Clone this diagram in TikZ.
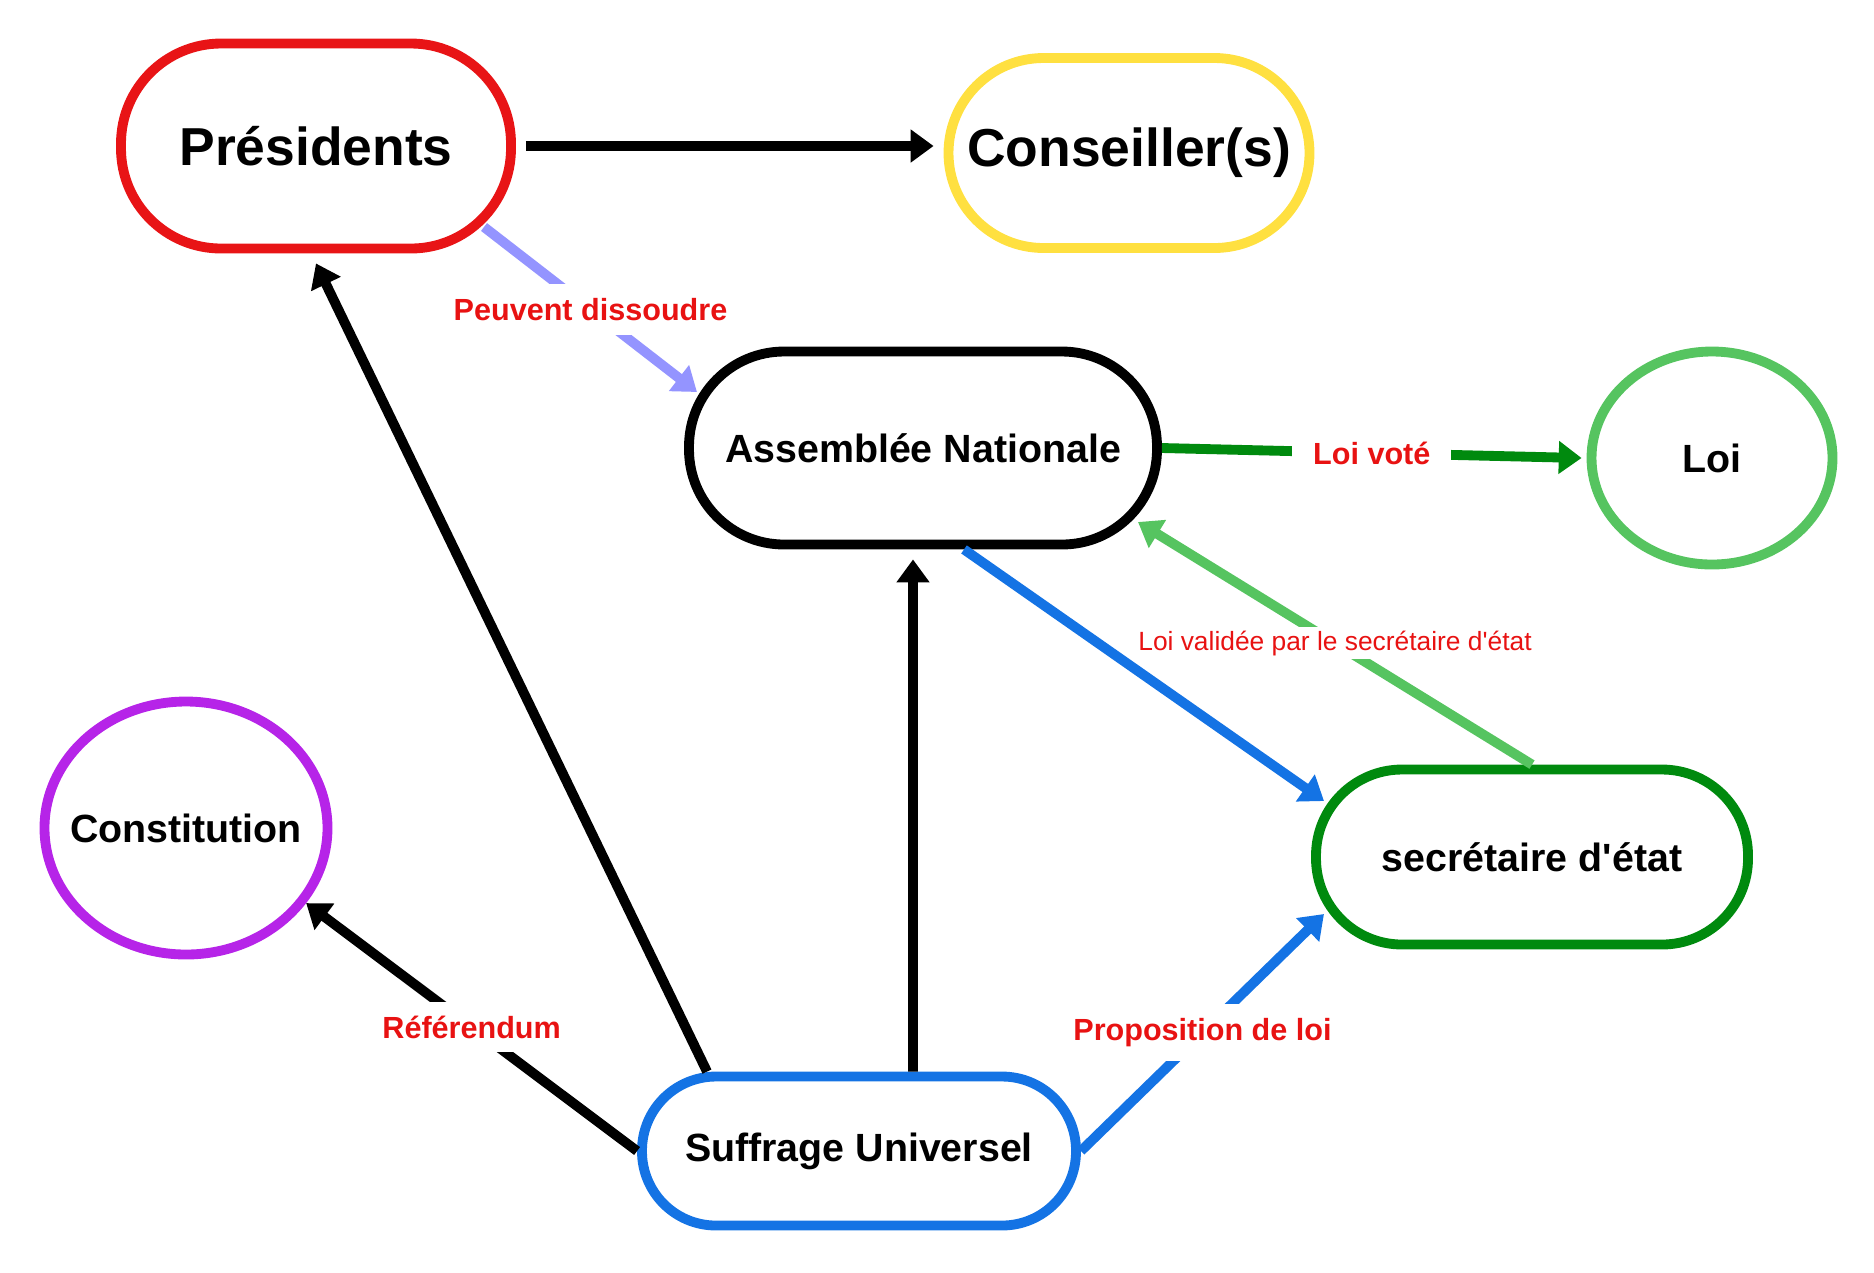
\documentclass[tikz,border=0pt]{standalone}
\usepackage{fontspec}
\setmainfont{Liberation Sans}
\usetikzlibrary{arrows.meta, positioning, shapes.geometric}
\definecolor{rouge}{RGB}{232,20,22}
\definecolor{jaune}{RGB}{255,224,64}
\definecolor{violet}{RGB}{182,36,232}
\definecolor{bleu}{RGB}{20,115,228}
\definecolor{vertfonce}{RGB}{0,138,14}
\definecolor{vertclair}{RGB}{86,196,96}
\definecolor{lavande}{RGB}{148,148,255}
\definecolor{etiquette}{RGB}{232,18,18}

\tikzset{
    bloc/.style={draw, rectangle, line width=2.8pt, rounded corners=#1, align=center,
        font=\fontsize{11.2}{13}\selectfont\bfseries},
    rond/.style={draw, ellipse, line width=2.8pt, inner sep=0pt, inner xsep=-8pt,
        font=\fontsize{11.2}{13}\selectfont\bfseries},
    grand/.style={font=\fontsize{15.2}{18}\selectfont\bfseries},
    fleche/.style={line width=2.8pt, -{Triangle[length=6.5pt,width=9pt]}},
    etiq/.style={fill=white, text=etiquette, inner sep=4pt,
        font=\fontsize{8.7}{10}\selectfont\bfseries}
}

\begin{document}
\begin{tikzpicture}
    \useasboundingbox (0,0) rectangle (18.74,-12.72);
    % Nodes
    \node[bloc=1cm, draw=rouge, minimum width=3.9cm, minimum height=2.05cm, grand] (pres) at (3.16,-1.46) {Présidents};
    \node[bloc=0.95cm, draw=jaune, minimum width=3.61cm, minimum height=1.9cm, grand] (cons) at (11.29,-1.53) {Conseiller(s)};
    \node[bloc=0.95cm, draw=black, minimum width=4.68cm, minimum height=1.93cm] (assem) at (9.23,-4.48) {Assemblée Nationale};
    \node[rond, draw=vertclair, minimum width=2.41cm, minimum height=2.13cm] (loi) at (17.12,-4.58) {Loi};
    \node[rond, draw=violet, minimum width=2.83cm, minimum height=2.53cm] (consti) at (1.86,-8.28) {Constitution};
    \node[bloc=0.86cm, draw=vertfonce, minimum width=4.32cm, minimum height=1.75cm] (secr) at (15.32,-8.57) {secrétaire d\textquotesingle état};
    \node[bloc=0.74cm, draw=bleu, minimum width=4.34cm, minimum height=1.49cm] (suff) at (8.59,-11.51) {Suffrage Universel};
    % Arrows
    \draw[fleche, shorten >=1mm] ([xshift=1mm]pres.east) -- (cons.west |- pres.east);
    \draw[fleche, lavande] ([shift={(1.68,-0.81)}]pres.center) -- node[etiq] {Peuvent dissoudre} ([shift={(-2.26,0.56)}]assem.center);
    \draw[fleche] ([xshift=-15.2mm]suff.north) -- ([yshift=-1mm]pres.south);
    \draw[fleche] ([xshift=5.4mm]suff.north) -- ([xshift=-1mm,yshift=-1mm]assem.south);
    \draw[fleche] (suff.west) -- node[etiq] {Référendum} (consti.-32);
    \draw[fleche, bleu] (suff.east) -- node[etiq] {Proposition de loi} ([shift={(-2.08,-0.57)}]secr.center);
    \draw[fleche, bleu] ([xshift=4.1mm]assem.south) -- ([shift={(-2.08,0.56)}]secr.center);
    \draw[fleche, vertclair] (secr.north) -- node[etiq, inner sep=1pt, font=\fontsize{7.5}{9}\selectfont] {Loi validée par le secrétaire d\textquotesingle état} ([shift={(2.15,-0.74)}]assem.center);
    \draw[fleche, vertfonce] (assem.east) -- node[etiq, inner xsep=6pt] {Loi voté} ([xshift=-0.5mm]loi.west);
\end{tikzpicture}
\end{document}
